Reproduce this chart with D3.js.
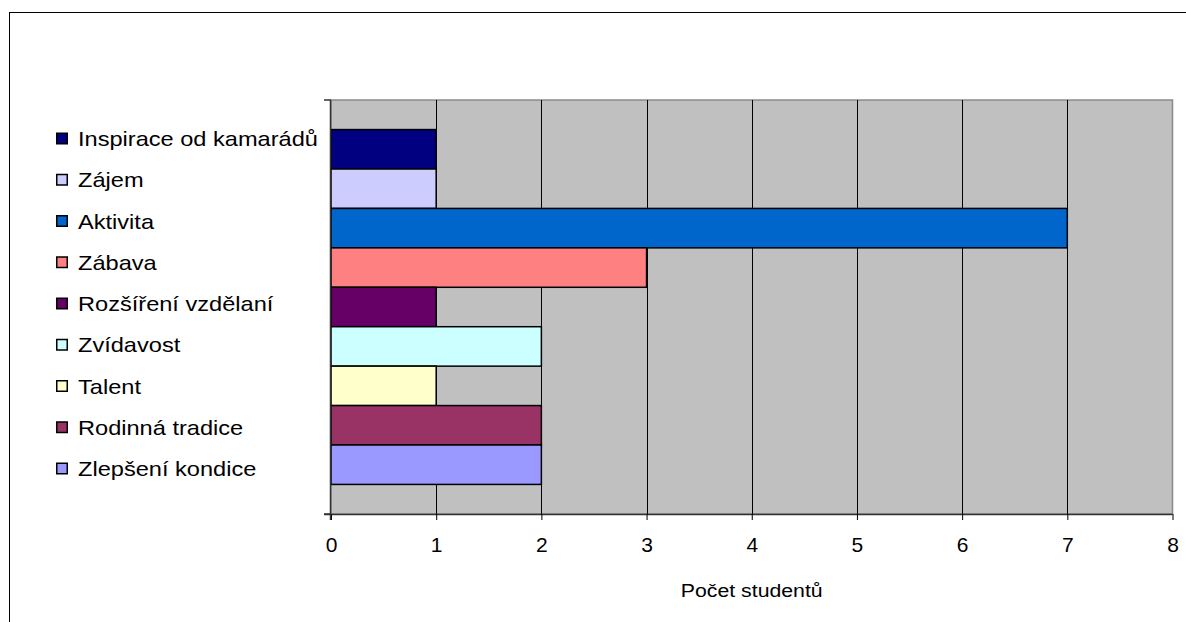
<!DOCTYPE html>
<html>
<head>
<meta charset="utf-8">
<script src="https://cdn.jsdelivr.net/npm/d3@7"></script>
<style>
  html, body { margin: 0; padding: 0; background: #ffffff; }
  svg { display: block; }
  text { font-family: "Liberation Sans", Arial, sans-serif; fill: #000; }
</style>
</head>
<body>
<svg id="chart" width="1186" height="622"></svg>
<script>
// Reasons students gave (listed top to bottom)
const categories = [
  "Inspirace od kamarádů",
  "Zájem",
  "Aktivita",
  "Zábava",
  "Rozšíření vzdělaní",
  "Zvídavost",
  "Talent",
  "Rodinná tradice",
  "Zlepšení kondice"
];
const values = [1, 1, 7, 3, 1, 2, 1, 2, 2];
const colors = ["#000080", "#CCCCFF", "#0066CC", "#FF8080", "#660066",
                "#CCFFFF", "#FFFFCC", "#993366", "#9999FF"];
const xTicks = [0, 1, 2, 3, 4, 5, 6, 7, 8];
const xTitle = "Počet studentů";

const svg = d3.select("#chart");

// outer chart frame
svg.append("rect")
  .attr("x", 9.5).attr("y", 12.5)
  .attr("width", 1300).attr("height", 800)
  .attr("fill", "#fff").attr("stroke", "#000").attr("stroke-width", 1);

const plot = { left: 331, right: 1172.5, top: 100, bottom: 514 };

const x = d3.scaleLinear().domain([0, 8]).range([plot.left, plot.right]);
const y = d3.scaleBand().domain(categories)
  .range([plot.top, plot.bottom]).paddingInner(0).paddingOuter(0.75);

// plot background
svg.append("rect")
  .attr("x", plot.left).attr("y", plot.top)
  .attr("width", plot.right - plot.left).attr("height", plot.bottom - plot.top)
  .attr("fill", "#C0C0C0").attr("stroke", "#8a8a8a").attr("stroke-width", 1.5);

// vertical gridlines
svg.append("g").selectAll("line")
  .data(xTicks.filter(t => t > 0 && t < 8))
  .join("line")
  .attr("x1", d => Math.round(x(d)) + 0.5).attr("x2", d => Math.round(x(d)) + 0.5)
  .attr("y1", plot.top).attr("y2", plot.bottom)
  .attr("stroke", "#000").attr("stroke-width", 1);

// bars
svg.append("g").selectAll("rect")
  .data(categories)
  .join("rect")
  .attr("x", x(0))
  .attr("y", d => y(d))
  .attr("width", (d, i) => x(values[i]) - x(0))
  .attr("height", y.bandwidth())
  .attr("fill", (d, i) => colors[i])
  .attr("stroke", "#000").attr("stroke-width", 1.5);

// x axis
const xAxis = svg.append("g")
  .attr("transform", `translate(0,${plot.bottom})`)
  .call(d3.axisBottom(x).tickValues(xTicks).tickSize(6).tickPadding(17).tickFormat(d3.format("d")));
xAxis.select(".domain").attr("stroke", "#333").attr("stroke-width", 1.5)
  .attr("d", `M${plot.left - 7},0.5H${plot.right}`);
xAxis.selectAll(".tick line").attr("stroke", "#000");
xAxis.selectAll(".tick text")
  .attr("font-size", 21)
  .attr("font-family", "Liberation Sans, Arial, sans-serif")
  .attr("fill", "#000");

// y axis line with end ticks
const yAxis = svg.append("g");
yAxis.append("line")
  .attr("x1", plot.left - 0.5).attr("x2", plot.left - 0.5)
  .attr("y1", plot.top).attr("y2", plot.bottom + 6)
  .attr("stroke", "#333").attr("stroke-width", 1.5);
yAxis.selectAll("line.edge")
  .data([plot.top, plot.bottom])
  .join("line")
  .attr("class", "edge")
  .attr("x1", plot.left - 7).attr("x2", plot.left)
  .attr("y1", d => d).attr("y2", d => d)
  .attr("stroke", "#333").attr("stroke-width", 1.5);

// axis title
svg.append("text")
  .attr("transform", `translate(${(plot.left + plot.right) / 2},597) scale(1.15,1)`)
  .attr("text-anchor", "middle")
  .attr("font-size", 18.5)
  .text(xTitle);

// legend
const legend = svg.append("g").selectAll("g")
  .data(categories)
  .join("g")
  .attr("transform", (d, i) => `translate(56,${138.5 + i * 41.25})`);
legend.append("rect")
  .attr("x", 0.75).attr("y", -5.25)
  .attr("width", 10.5).attr("height", 10.5)
  .attr("fill", (d, i) => colors[i])
  .attr("stroke", "#000").attr("stroke-width", 1.5);
legend.append("text")
  .attr("transform", "translate(22,7.5) scale(1.18,1)")
  .attr("font-size", 20)
  .text(d => d);
</script>
</body>
</html>
